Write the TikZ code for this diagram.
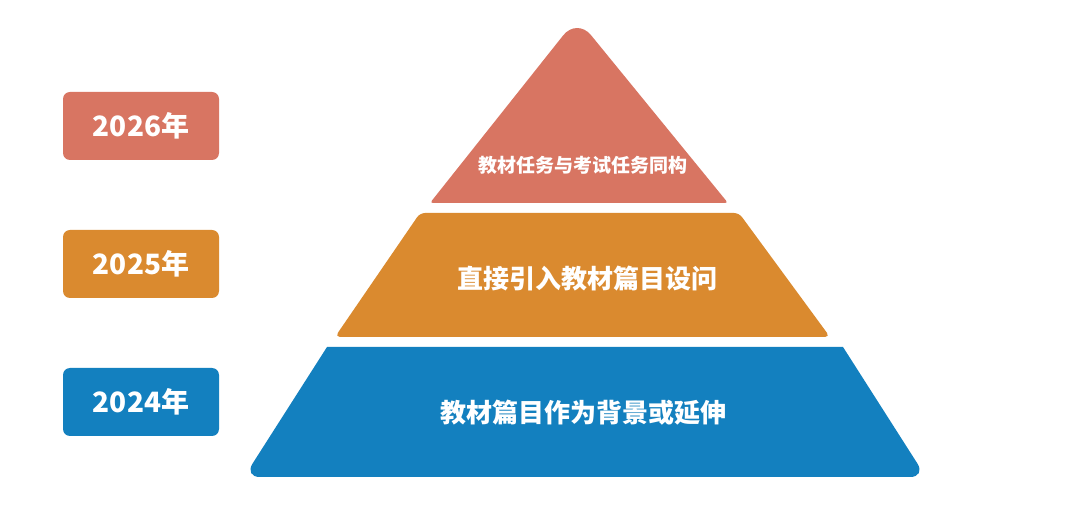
\documentclass[tikz,border=0pt]{standalone}
\usepackage{fontspec}
\newfontfamily\cjk{Noto Sans CJK SC}
\usepackage{tikz}

\definecolor{topred}{HTML}{D87562}
\definecolor{midorange}{HTML}{DA8A2F}
\definecolor{basblue}{HTML}{1380BF}

\begin{document}
\begin{tikzpicture}[x=1pt, y=-1pt,
    yearbox/.style={fill=#1, rounded corners=7pt, minimum width=156pt, minimum height=68pt,
        text=white, inner sep=0pt, font=\cjk\bfseries\fontsize{28}{28}\selectfont},
    tiertext/.style={text=white, inner sep=0pt, font=\cjk\bfseries\fontsize{#1}{#1}\selectfont},
]

\useasboundingbox[fill=white] (0,0) rectangle (1080,518);

% year labels
\node[yearbox=topred] (y2026) at (141,126) {2026年};
\node[yearbox=midorange] (y2025) at (141,264) {2025年};
\node[yearbox=basblue] (y2024) at (141,402) {2024年};

% pyramid tiers
\fill[topred] (430,203) [rounded corners=22pt] -- (577,18) [rounded corners=3pt] -- (728,203) -- cycle;
\fill[midorange, rounded corners=5pt] (420,213) -- (739,213) -- (830,337) -- (335,337) -- cycle;
\fill[basblue] (327,347) -- (843,347) [rounded corners=16pt] -- (926,477) -- (244,477) [sharp corners] -- cycle;

\node[tiertext=19] (tierTop) at (583,165) {教材任务与考试任务同构};
\node[tiertext=26] (tierMid) at (587,279) {直接引入教材篇目设问};
\node[tiertext=26] (tierBas) at (583,413) {教材篇目作为背景或延伸};

\end{tikzpicture}
\end{document}
